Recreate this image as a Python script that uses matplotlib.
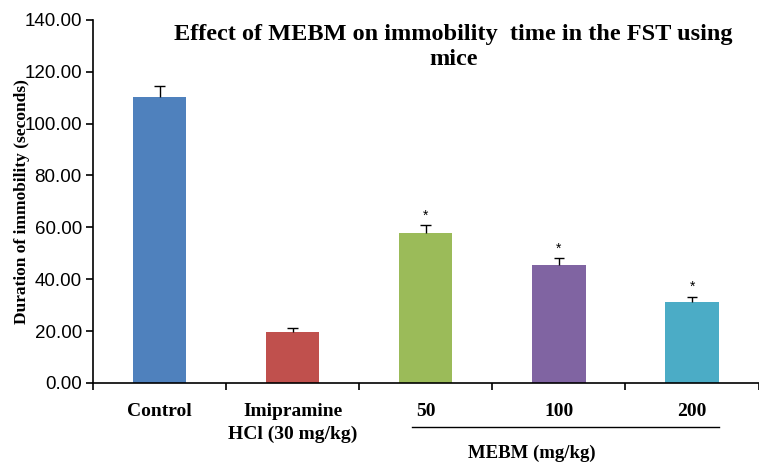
import numpy as np
import matplotlib.pyplot as plt

groups = ['Control', 'Imipramine\nHCl (30 mg/kg)', '50', '100', '200']
means = [110.3, 19.7, 57.8, 45.6, 31.2]
errors = [4.2, 1.3, 3.0, 2.6, 2.1]
significant = [False, False, True, True, True]
colors = ['#4F81BD', '#C0504D', '#9BBB59', '#8064A2', '#4BACC6']

serif = 'Liberation Serif'
sans = 'Liberation Sans'

fig = plt.figure(figsize=(7.59, 4.63), dpi=100)
ax = fig.add_axes([0.1225, 0.173, 0.877, 0.784])

x = np.arange(len(groups))
tops = np.array(means) + np.array(errors)
ax.bar(x, means, width=0.4, color=colors, zorder=2)
# one-sided error bars (upper only)
ax.vlines(x, means, tops, color='black', lw=1, zorder=3)
ax.hlines(tops, x - 0.04, x + 0.04, color='black', lw=1, zorder=3)

for xi, t, s in zip(x, tops, significant):
    if s:
        ax.text(xi, t + 1.0, '*', ha='center', va='bottom',
                fontsize=10, family=sans)

ax.set_xlim(-0.5, len(groups) - 0.5)
ax.set_ylim(0, 140)
ax.set_yticks(np.arange(0, 141, 20))
ax.set_yticklabels([f'{v:.2f}' for v in np.arange(0, 141, 20)],
                   family=sans, fontsize=13.5)
ax.set_xticks(np.arange(-0.5, len(groups) - 0.4, 1))
ax.set_xticklabels([])
ax.tick_params(axis='x', length=5, direction='out', width=1.2)
ax.tick_params(axis='y', length=5, direction='out', width=1.2, pad=3)

for xi, g in zip(x, groups):
    ax.text(xi, -0.055, g, transform=ax.get_xaxis_transform(), ha='center',
            va='top', fontsize=14, fontweight='bold', family=serif,
            linespacing=1.45)

# bracket line under the MEBM doses
ax.plot([1.9, 4.2], [-0.121, -0.121], transform=ax.get_xaxis_transform(),
        color='black', lw=1, clip_on=False)
ax.text(2.8, -0.193, 'MEBM (mg/kg)', transform=ax.get_xaxis_transform(),
        ha='center', va='center', fontsize=13.5, fontweight='bold', family=serif)

for side in ['top', 'right']:
    ax.spines[side].set_visible(False)
for side in ['left', 'bottom']:
    ax.spines[side].set_linewidth(1.2)

ax.set_ylabel('Duration of immobility (seconds)', fontsize=12.5,
              fontweight='bold', family=serif, labelpad=-4)

fig.text(0.597, 0.898, 'Effect of MEBM on immobility  time in the FST using\nmice',
         ha='center', va='center', fontsize=17.5, fontweight='bold',
         family=serif, linespacing=1.25)

fig.savefig('out.png', dpi=100)
